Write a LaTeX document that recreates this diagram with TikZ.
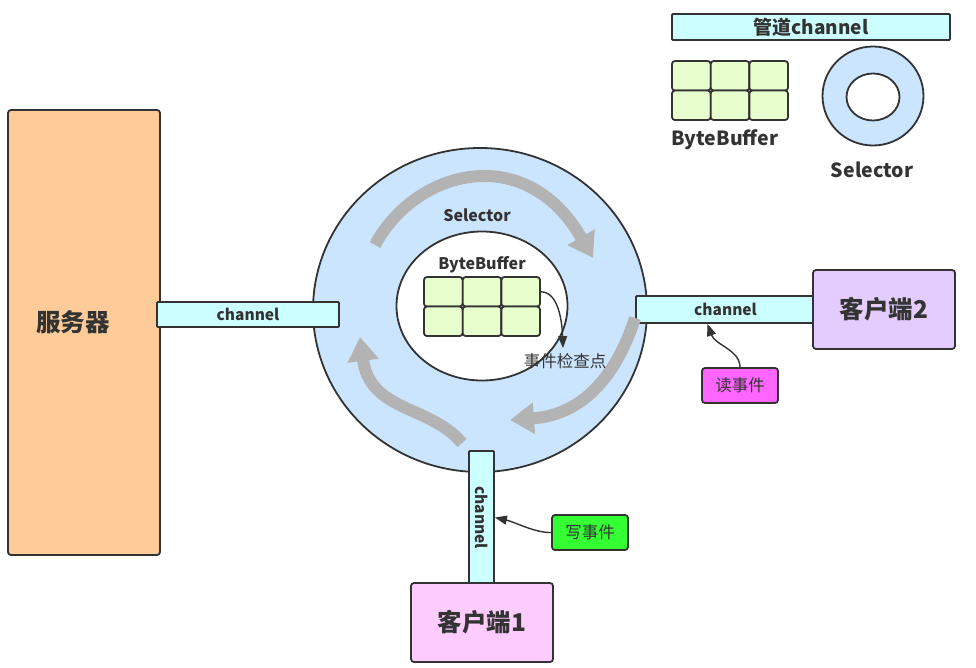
\documentclass[tikz,border=0pt]{standalone}
\usepackage{fontspec}
\setmainfont{Noto Sans CJK SC}
\usetikzlibrary{arrows.meta,positioning,shapes.geometric}
\definecolor{ink}{HTML}{333333}
\definecolor{pipefill}{HTML}{CCFFFF}
\definecolor{ringfill}{HTML}{CCE5FF}
\definecolor{cellfill}{HTML}{E6FFCC}
\definecolor{serverfill}{HTML}{FFCC99}
\definecolor{clientafill}{HTML}{FFCCFF}
\definecolor{clientbfill}{HTML}{E5CCFF}
\definecolor{readfill}{HTML}{FF66FF}
\definecolor{writefill}{HTML}{33FF33}
\definecolor{flowgray}{HTML}{B3B3B3}
\def\cols{1,2,3}
\def\rows{1,2}
\newcommand{\fs}[1]{\fontsize{#1}{#1}\selectfont}

\begin{document}
\begin{tikzpicture}[x=1pt,y=-1pt,
    box/.style={draw=ink,line width=1.8pt,rounded corners=3pt,inner sep=0pt,text=ink},
    pipe/.style={box,fill=pipefill,rounded corners=1pt,font=\bfseries\fs{15.5}},
    cell/.style={box,fill=cellfill,minimum width=38.7pt,minimum height=29.5pt},
    ring/.style={draw=ink,line width=1.8pt,ellipse,inner sep=0pt},
    txt/.style={text=ink,inner sep=1pt},
    tag/.style={box,minimum width=76pt,minimum height=35pt,font=\fs{16.5}},
    client/.style={box,minimum width=142pt,minimum height=79pt,font=\bfseries\fs{24.5}},
    flow/.style={draw=flowgray,line width=12pt,-{Triangle[width=30pt,length=24pt]}},
    hint/.style={draw=ink,line width=1.4pt,-{Triangle[width=9pt,length=12pt]}}
  ]
  \useasboundingbox (0,0) rectangle (976,668);

  % selector ring and server
  \node[ring,fill=ringfill,minimum width=334pt,minimum height=324pt] (ring) at (480,310) {};
  \node[box,fill=serverfill,minimum width=152pt,minimum height=445pt] (server) at (84,332.5) {};
  \node[txt,font=\bfseries\fs{24.5}] (servertxt) at (73,322) {服务器};

  % channels
  \node[pipe,minimum width=182pt,minimum height=25pt] (lpipe) at (248,314.5) {channel};
  \node[pipe,minimum width=179pt,minimum height=27pt] (rpipe) at (725.5,309.5) {channel};
  \node[pipe,minimum width=25pt,minimum height=133pt] (bpipe) at (481.5,517.5) {};
  \node[txt,font=\bfseries\fs{15.5},rotate=-90] (bpipetxt) at (bpipe.center) {channel};

  % clients
  \node[client,fill=clientbfill] (client2) at (884,309.5) {客户端2};
  \node[client,fill=clientafill] (client1) at (482,622.5) {客户端1};

  % the loop round the ring
  \draw[flow] (375,245) .. controls (415,170) and (525,140) .. (593,258);
  \draw[flow] (635,318) .. controls (615,380) and (580,415) .. (510,420);
  \draw[flow] (462,443) .. controls (430,405) and (370,412) .. (360,337);

  % inside the ring
  \node[ring,fill=white,minimum width=171pt,minimum height=149pt] (hole) at (482,306) {};
  \node[txt,font=\bfseries\fs{16}] (ringtxt) at (477,215) {Selector};
  \node[txt,font=\bfseries\fs{16}] (bbtxt) at (482,265) {ByteBuffer};
  \foreach \c in \cols {
    \foreach \r in \rows {
      \node[cell] (bb\c\r) at ({443.3+38.7*(\c-1)},{291.8+29.5*(\r-1)}) {};
    }
  }
  \node[txt,font=\fs{16.5}] (check) at (565,361) {事件检查点};
  \draw[hint] (bb31.east) .. controls (558,292) and (562,320) .. ([shift={(-2,-4)}]check.north);

  % events
  \node[tag,fill=readfill] (readev) at (740,385.5) {读事件};
  \node[tag,fill=writefill] (writeev) at (590,532.5) {写事件};
  \draw[hint] (readev.north) .. controls (740,350) and (715,345) .. ([xshift=-18pt]rpipe.south);
  \draw[hint] (writeev.west) .. controls (535,533) and (515,522) .. (bpipe.east);

  % legend
  \node[pipe,minimum width=278pt,minimum height=26pt,font=\bfseries\fs{19}] (lgpipe) at (811,27) {管道channel};
  \foreach \c in \cols {
    \foreach \r in \rows {
      \node[cell] (lg\c\r) at ({691.3+38.7*(\c-1)},{75.8+29.5*(\r-1)}) {};
    }
  }
  \node[txt,font=\bfseries\fs{19.5}] (lgbbtxt) at (725,140) {ByteBuffer};
  \node[ring,fill=ringfill,minimum width=101pt,minimum height=99pt] (lgring) at (873,96) {};
  \node[ring,fill=white,minimum width=53pt,minimum height=47pt] (lghole) at (873,97) {};
  \node[txt,font=\bfseries\fs{19.5}] (lgringtxt) at (872,170) {Selector};

\end{tikzpicture}
\end{document}
